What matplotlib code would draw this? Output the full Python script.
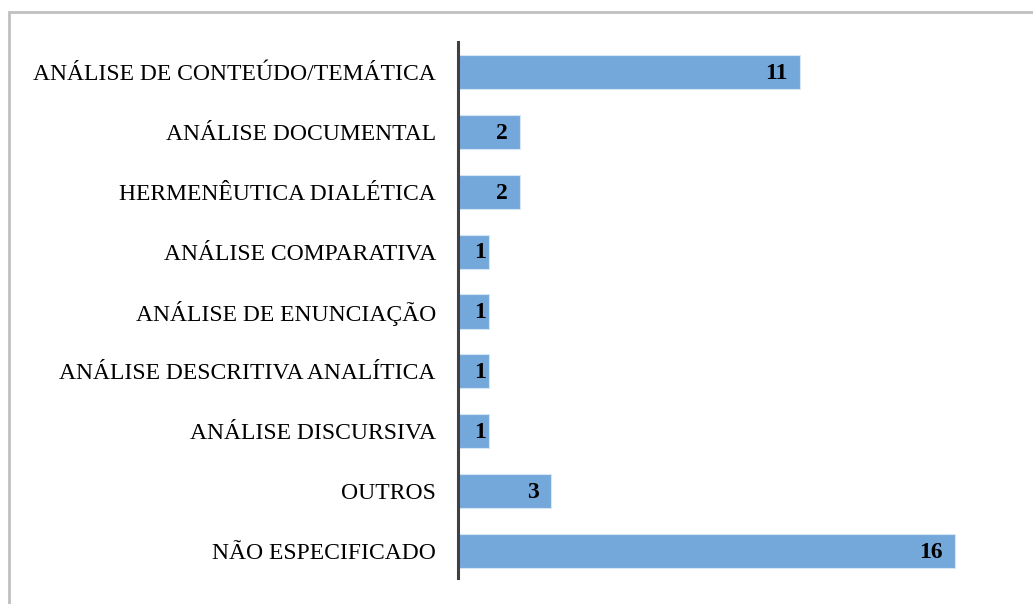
import matplotlib.pyplot as plt
from matplotlib.patches import Rectangle

categorias = ['ANÁLISE DE CONTEÚDO/TEMÁTICA', 'ANÁLISE DOCUMENTAL', 'HERMENÊUTICA DIALÉTICA',
              'ANÁLISE COMPARATIVA', 'ANÁLISE DE ENUNCIAÇÃO', 'ANÁLISE DESCRITIVA ANALÍTICA',
              'ANÁLISE DISCURSIVA', 'OUTROS', 'NÃO ESPECIFICADO']
valores = [11, 2, 2, 1, 1, 1, 1, 3, 16]

plt.rcParams['font.family'] = ['Liberation Serif', 'DejaVu Serif']

fig = plt.figure(figsize=(10.33, 6.04), dpi=100)
# moldura cinza
fig.patches.append(Rectangle((9 / 1033, -0.05), 1.1, 1 - 12 / 604 + 0.05, transform=fig.transFigure,
                             fill=False, edgecolor='#c0c0c0', linewidth=2))

ax = fig.add_axes([458 / 1033, 26 / 604, 575 / 1033, 536 / 604])
y = list(range(len(categorias)))[::-1]
ax.barh(y, valores, height=0.57, color='#74a8da', edgecolor='#d6e6f5', linewidth=0.8)
ax.set_xlim(0, 575 / 31.06)
ax.set_ylim(-0.45, 8.5)
ax.set_yticks(y)
ax.set_yticklabels(categorias, fontsize=17)
ax.tick_params(axis='y', length=0, pad=16)
ax.set_xticks([])
for s in ['top', 'right', 'bottom']:
    ax.spines[s].set_visible(False)
ax.spines['left'].set_color('#404040')
ax.spines['left'].set_linewidth(2.2)

for yi, v in zip(y, valores):
    pad = -9 if v > 1 else -2
    ax.annotate(str(v), (v, yi), xytext=(pad, -1), textcoords='offset points',
                ha='right', va='center', fontsize=17, fontweight='bold')

fig.savefig('out.png', dpi=100)
